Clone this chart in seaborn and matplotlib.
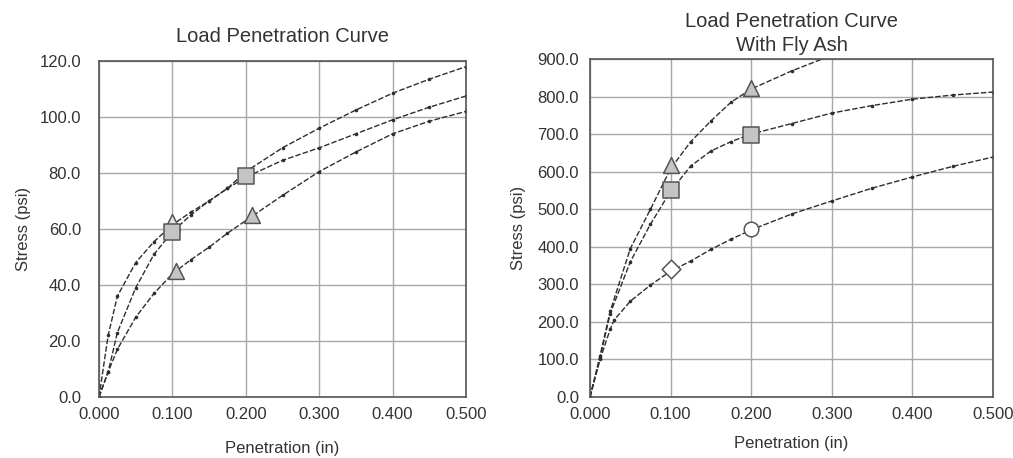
import matplotlib
matplotlib.use("Agg")
import matplotlib.pyplot as plt
import seaborn as sns
import pandas as pd

# ---------------- data ----------------
# Left chart: Load Penetration Curve
left_x = [0, 0.0125, 0.025, 0.05, 0.075, 0.1, 0.125, 0.15, 0.175, 0.2, 0.25, 0.3, 0.35, 0.4, 0.45, 0.5]
left_top = [0, 22, 36, 48, 55.5, 61.5, 66, 70, 74.5, 80.5, 89, 96, 102.5, 108.5, 113.5, 118]
left_mid = [0, 9, 23, 39, 51, 59, 65, 70, 74.5, 78.5, 84.5, 89, 94, 99, 103.5, 107.5]
left_bot = [0, 9, 17, 28.5, 37, 44, 49, 53.5, 58.5, 63, 72, 80.5, 87.5, 94, 98.5, 102]

left_tri_top_x = [0.1]
left_tri_top_y = [62.5]
left_sq_x = [0.1, 0.2]
left_sq_y = [59, 79]
left_tri_bot_x = [0.105, 0.208]
left_tri_bot_y = [45, 65]

# Right chart: Load Penetration Curve With Fly Ash
right_top_x = [0, 0.0125, 0.025, 0.05, 0.075, 0.1, 0.125, 0.15, 0.175, 0.2, 0.25, 0.3]
right_top = [0, 110, 228, 395, 500, 608, 680, 735, 785, 820, 868, 910]
right_mid_x = [0, 0.0125, 0.025, 0.05, 0.075, 0.1, 0.125, 0.15, 0.175, 0.2, 0.25, 0.3, 0.35, 0.4, 0.45, 0.5]
right_mid = [0, 105, 222, 360, 460, 548, 615, 655, 680, 700, 728, 756, 776, 793, 804, 812]
right_bot_x = [0, 0.0125, 0.025, 0.03, 0.05, 0.075, 0.1, 0.125, 0.15, 0.175, 0.2, 0.25, 0.3, 0.35, 0.4, 0.45, 0.5]
right_bot = [0, 100, 180, 205, 255, 298, 335, 362, 393, 420, 445, 487, 522, 556, 586, 614, 639]

right_tri_x = [0.1, 0.2]
right_tri_y = [618, 822]
right_sq_x = [0.1, 0.2]
right_sq_y = [551, 697]
right_dia_x = [0.1]
right_dia_y = [340]
right_circ_x = [0.2]
right_circ_y = [448]

x_ticks = [0.0, 0.1, 0.2, 0.3, 0.4, 0.5]
left_y_ticks = [0, 20, 40, 60, 80, 100, 120]
right_y_ticks = [0, 100, 200, 300, 400, 500, 600, 700, 800, 900]

# ---------------- style ----------------
sns.set_theme(style="white")
plt.rcParams["font.family"] = ["Liberation Sans", "DejaVu Sans"]

W, H = 1013, 458
fig = plt.figure(figsize=(W / 100, H / 100), dpi=100)
fig.patch.set_facecolor("white")

axL = fig.add_axes([99 / W, 1 - 397 / H, (466 - 99) / W, (397 - 61) / H])
axR = fig.add_axes([590 / W, 1 - 397 / H, (993 - 590) / W, (397 - 59) / H])

line_color = "#2e2e2e"
line_kw = dict(color=line_color, linewidth=1.0, linestyle=(0, (4, 1.5)),
               marker="o", markersize=2.6, markeredgewidth=0, sort=False)
text_color = "#333333"


def curve(ax, xs, ys):
    df = pd.DataFrame({"x": xs, "y": ys})
    sns.lineplot(data=df, x="x", y="y", ax=ax, **line_kw)


def big_markers(ax, xs, ys, marker, face, size):
    df = pd.DataFrame({"x": xs, "y": ys})
    sns.scatterplot(data=df, x="x", y="y", ax=ax, marker=marker, s=size,
                    color=face, edgecolor="#555555", linewidth=1.1, zorder=5)


# Left
curve(axL, left_x, left_top)
curve(axL, left_x, left_mid)
curve(axL, left_x, left_bot)
big_markers(axL, left_tri_top_x, left_tri_top_y, "^", "#e6e6e6", 130)
big_markers(axL, left_sq_x, left_sq_y, "s", "#c4c4c4", 130)
big_markers(axL, left_tri_bot_x, left_tri_bot_y, "^", "#c4c4c4", 130)

# Right
curve(axR, right_top_x, right_top)
curve(axR, right_mid_x, right_mid)
curve(axR, right_bot_x, right_bot)
big_markers(axR, right_tri_x, right_tri_y, "^", "#c4c4c4", 130)
big_markers(axR, right_sq_x, right_sq_y, "s", "#c4c4c4", 140)
big_markers(axR, right_dia_x, right_dia_y, "D", "#ffffff", 90)
big_markers(axR, right_circ_x, right_circ_y, "o", "#ffffff", 110)

for ax, yt, ymax, ypad in [(axL, left_y_ticks, 120, 13), (axR, right_y_ticks, 900, 8)]:
    ax.set_xlim(0, 0.5)
    ax.set_ylim(0, ymax)
    ax.set_xticks(x_ticks)
    ax.set_xticklabels([f"{v:.3f}" for v in x_ticks])
    ax.set_yticks(yt)
    ax.set_yticklabels([f"{v:.1f}" for v in yt])
    ax.grid(True, color="#a8a8a8", linewidth=1.0, linestyle="-")
    ax.set_axisbelow(True)
    ax.tick_params(axis="both", length=0, labelsize=12, colors=text_color)
    ax.tick_params(axis="y", pad=ypad)
    ax.tick_params(axis="x", pad=7)
    for s in ax.spines.values():
        s.set_visible(True)
        s.set_color("#555555")
        s.set_linewidth(1.2)
    ax.set_facecolor("white")

axL.set_xlabel("Penetration (in)", fontsize=12, color=text_color, labelpad=14)
axR.set_xlabel("Penetration (in)", fontsize=12, color=text_color, labelpad=10)
axL.set_ylabel("Stress (psi)", fontsize=12, color=text_color, labelpad=6)
axR.set_ylabel("Stress (psi)", fontsize=12, color=text_color, labelpad=8)

axL.set_title("Load Penetration Curve", fontsize=14.5, color=text_color, pad=14)
axR.set_title("Load Penetration Curve\nWith Fly Ash", fontsize=14.5, color=text_color,
              pad=6, linespacing=1.3)

fig.savefig("out.png", dpi=100, facecolor="white")
